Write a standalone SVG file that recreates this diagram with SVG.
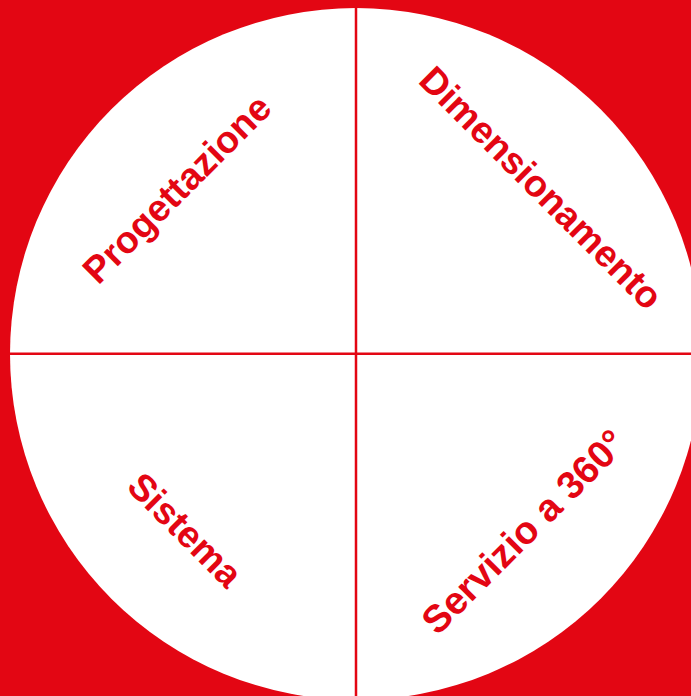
<svg xmlns="http://www.w3.org/2000/svg" width="691" height="696" viewBox="0 0 691 696">
<style>
.lbl{font-family:"Liberation Sans",Arial,sans-serif;font-weight:bold;font-size:37.5px;fill:#E30613;text-anchor:middle}
.ln{stroke:#E30613;stroke-width:2.5;fill:none}
</style>
<rect x="0" y="0" width="691" height="696" fill="#E30613"/>
<circle cx="356" cy="354" r="346" fill="#FFFFFF"/>
<g id="connectors">
<line class="ln" x1="356" y1="6" x2="356" y2="700"/>
<line class="ln" x1="8" y1="353.7" x2="691" y2="353.7"/>
</g>
<g id="progettazione"><text class="lbl" transform="translate(186,198) rotate(-45)">Progettazione</text></g>
<g id="dimensionamento"><text class="lbl" transform="translate(532,197) rotate(45)">Dimensionamento</text></g>
<g id="sistema"><text class="lbl" transform="translate(176,539) rotate(45)">Sistema</text></g>
<g id="servizio"><text class="lbl" style="font-size:38.5px" transform="translate(533,541) rotate(-45)">Servizio a 360°</text></g>
</svg>
